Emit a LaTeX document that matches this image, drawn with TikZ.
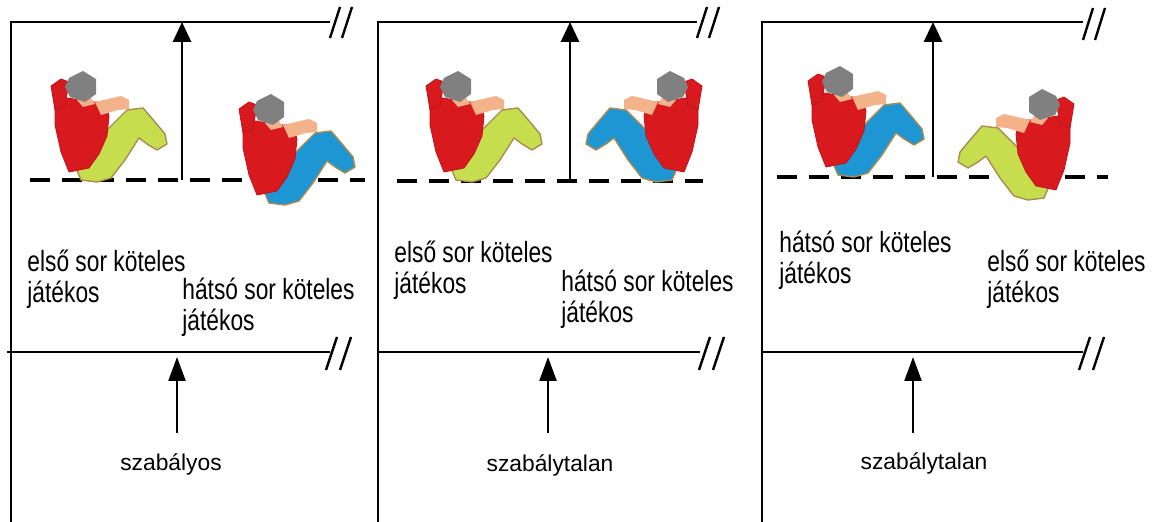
\documentclass[tikz,border=0pt]{standalone}
\usepackage{fontspec}
\setmainfont{Liberation Sans}
\newfontfamily\labfont[FakeStretch=0.78]{Liberation Sans}
\usetikzlibrary{arrows.meta}

\definecolor{shirt}{RGB}{216,26,30}
\definecolor{shirtedge}{RGB}{190,20,25}
\definecolor{hair}{RGB}{128,128,128}
\definecolor{skin}{RGB}{244,178,138}
\definecolor{pantsgreen}{RGB}{198,222,78}
\definecolor{pantsblue}{RGB}{30,150,212}
\definecolor{legedge}{RGB}{168,140,80}

% one player sitting on the floor; #1 seat point, #2 facing (1 right, -1 left), #3 trouser colour
\newcommand\drawplayer[3]{%
  \begin{scope}[shift={#1}, xscale=#2]
    \fill[#3, draw=legedge, line width=0.7pt, line join=round]
      (-20,-14) -- (-6,-34) -- (6,-44) -- (32,-70) -- (48,-72) -- (60,-58)
      -- (70,-46) -- (72,-36) -- (62,-30) -- (52,-36) -- (44,-42) -- (30,-20)
      -- (16,-2) -- (2,2) -- (-14,0) -- cycle;
    \fill[shirt, draw=shirtedge, line width=0.4pt, line join=round]
      (-40,-80) -- (-26,-82) -- (-8,-78) -- (10,-78) -- (14,-64) -- (12,-44)
      -- (4,-26) -- (-6,-12) -- (-26,-8) -- (-34,-28) -- (-40,-55) -- cycle;
    \fill[shirt, draw=shirtedge, line width=0.4pt, line join=round]
      (-44,-94) -- (-34,-101) -- (-26,-98) -- (-28,-86) -- (-30,-74) -- (-40,-70) -- cycle;
    \fill[skin] (0,-78) -- (26,-84) -- (34,-80) -- (34,-71) -- (23,-70) -- (6,-65) -- cycle;
    \fill[skin] (-18,-80) -- (-4,-82) -- (0,-76) -- (-12,-73) -- cycle;
    \fill[hair] (-26,-102) -- (-12,-109) -- (1,-101) -- (1,-86) -- (-10,-78)
      -- (-25,-83) -- (-30,-93) -- cycle;
  \end{scope}}

\begin{document}
\begin{tikzpicture}[x=0.5pt, y=-0.5pt,
  court/.style={line width=1.3pt, line join=miter},
  breakmark/.style={line width=1.2pt},
  attackline/.style={line width=1.6pt, dash pattern=on 10pt off 6pt},
  uparrow/.style={line width=1.4pt, -{Triangle[length=10pt,width=9pt]}},
  lowarrow/.style={line width=1.2pt, -{Triangle[length=12pt,width=8.5pt]}},
  label/.style={anchor=base west, inner sep=0pt, font=\labfont\fontsize{14.6}{14.3}\selectfont},
  caption/.style={anchor=base, inner sep=0pt, font=\fontsize{11.4}{13}\selectfont}]
\useasboundingbox (0,0) rectangle (1154,522);

% ---------- first court: szabályos ----------
\coordinate (a-bl) at (11,522);
\coordinate (a-tl) at (11,22);
\coordinate (a-tr) at (330,22);
\coordinate (a-nl) at (7,352);
\coordinate (a-nr) at (330,352);
\coordinate (a-dl) at (30,180);
\coordinate (a-dr) at (365,180);
\coordinate (a-up0) at (182,180);
\coordinate (a-up1) at (182,22);
\coordinate (a-lo0) at (177,433);
\coordinate (a-lo1) at (177,357);
\draw[court] (a-bl) -- (a-tl) -- (a-tr);
\draw[court] (a-nl) -- (a-nr);
\draw[breakmark] (330,38) -- (340,7) (342,38) -- (352,7);
\draw[breakmark] (326,370) -- (337,337) (340,370) -- (351,337);
\draw[attackline] (a-dl) -- (a-dr);
\draw[uparrow] (a-up0) -- (a-up1);
\draw[lowarrow] (a-lo0) -- (a-lo1);
\drawplayer{(95,180)}{1}{pantsgreen}
\drawplayer{(283,203)}{1}{pantsblue}
\node[label] (a-front) at (27,272) {\begin{tabular}[t]{@{}l@{}}első sor köteles\\játékos\end{tabular}};
\node[label] (a-back) at (182,300) {\begin{tabular}[t]{@{}l@{}}hátsó sor köteles\\játékos\end{tabular}};
\node[caption] (a-cap) at (171,471) {szabályos};

% ---------- second court: szabálytalan ----------
\coordinate (b-bl) at (378,522);
\coordinate (b-tl) at (378,22);
\coordinate (b-tr) at (697,22);
\coordinate (b-nl) at (378,352);
\coordinate (b-nr) at (700,352);
\coordinate (b-dl) at (397,181);
\coordinate (b-dr) at (703,181);
\coordinate (b-up0) at (570,181);
\coordinate (b-up1) at (570,22);
\coordinate (b-lo0) at (548,433);
\coordinate (b-lo1) at (548,357);
\draw[court] (b-bl) -- (b-tl) -- (b-tr);
\draw[court] (b-nl) -- (b-nr);
\draw[breakmark] (697,38) -- (707,7) (709,38) -- (719,7);
\draw[breakmark] (699,370) -- (710,337) (713,370) -- (724,337);
\draw[attackline] (b-dl) -- (b-dr);
\draw[uparrow] (b-up0) -- (b-up1);
\draw[lowarrow] (b-lo0) -- (b-lo1);
\drawplayer{(470,180)}{1}{pantsgreen}
\drawplayer{(658,180)}{-1}{pantsblue}
\node[label] (b-front) at (394,263) {\begin{tabular}[t]{@{}l@{}}első sor köteles\\játékos\end{tabular}};
\node[label] (b-back) at (561,292) {\begin{tabular}[t]{@{}l@{}}hátsó sor köteles\\játékos\end{tabular}};
\node[caption] (b-cap) at (550,472) {szabálytalan};

% ---------- third court: szabálytalan ----------
\coordinate (c-bl) at (762,522);
\coordinate (c-tl) at (762,22);
\coordinate (c-tr) at (1083,22);
\coordinate (c-nl) at (762,352);
\coordinate (c-nr) at (1083,352);
\coordinate (c-dl) at (777,177);
\coordinate (c-dr) at (1108,177);
\coordinate (c-up0) at (933,177);
\coordinate (c-up1) at (933,22);
\coordinate (c-lo0) at (913,433);
\coordinate (c-lo1) at (913,357);
\draw[court] (c-bl) -- (c-tl) -- (c-tr);
\draw[court] (c-nl) -- (c-nr);
\draw[breakmark] (1083,40) -- (1093,8) (1095,40) -- (1105,8);
\draw[breakmark] (1079,370) -- (1090,337) (1093,370) -- (1104,337);
\draw[attackline] (c-dl) -- (c-dr);
\draw[uparrow] (c-up0) -- (c-up1);
\draw[lowarrow] (c-lo0) -- (c-lo1);
\drawplayer{(852,175)}{1}{pantsblue}
\drawplayer{(1030,198)}{-1}{pantsgreen}
\node[label] (c-back) at (779,253) {\begin{tabular}[t]{@{}l@{}}hátsó sor köteles\\játékos\end{tabular}};
\node[label] (c-front) at (987,272) {\begin{tabular}[t]{@{}l@{}}első sor köteles\\játékos\end{tabular}};
\node[caption] (c-cap) at (924,470) {szabálytalan};
\end{tikzpicture}
\end{document}
